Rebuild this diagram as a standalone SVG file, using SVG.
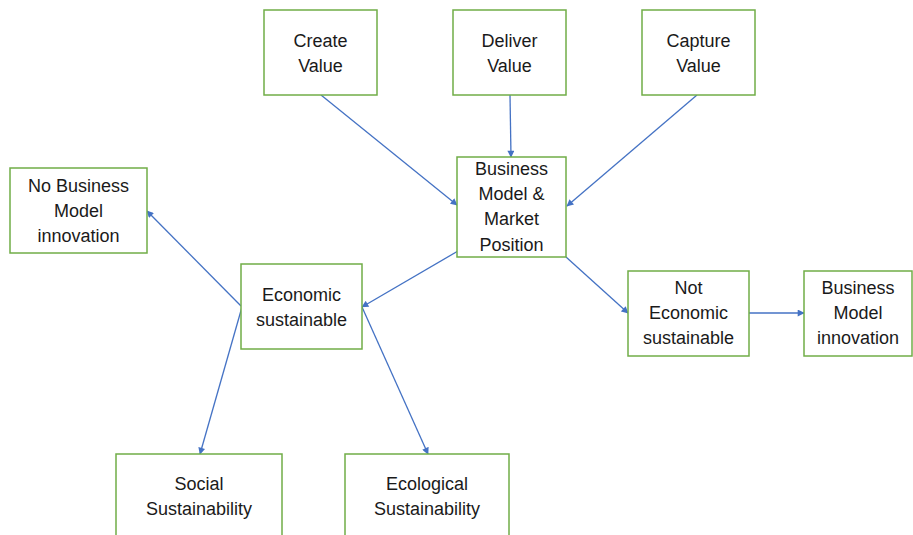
<svg xmlns="http://www.w3.org/2000/svg" width="913" height="535" viewBox="0 0 913 535">
  <style>
    .box { fill: #ffffff; stroke: #70AD47; stroke-width: 1.5; }
    .lbl { font-family: "Liberation Sans", Arial, sans-serif; font-size: 18px; fill: #1a1a1a; text-anchor: middle; }
    .edge { stroke: #4472C4; stroke-width: 1.3; fill: none; marker-end: url(#arrow); }
  </style>
  <defs>
    <marker id="arrow" viewBox="0 0 10 10" refX="9" refY="5" markerWidth="8" markerHeight="7" markerUnits="userSpaceOnUse" orient="auto">
      <path d="M0,0 L10,5 L0,10 z" fill="#4472C4"/>
    </marker>
  </defs>
  <rect width="913" height="535" fill="#ffffff"/>

  <g id="connectors">
    <line class="edge" x1="321" y1="95" x2="457" y2="205"/>
    <line class="edge" x1="510" y1="95" x2="511" y2="157"/>
    <line class="edge" x1="697" y1="95" x2="567" y2="206"/>
    <line class="edge" x1="458" y1="251" x2="362" y2="307"/>
    <line class="edge" x1="241" y1="306" x2="147" y2="211"/>
    <line class="edge" x1="242" y1="307" x2="200" y2="454"/>
    <line class="edge" x1="362" y1="307" x2="428" y2="454"/>
    <line class="edge" x1="566" y1="257" x2="628" y2="313"/>
    <line class="edge" x1="749" y1="313" x2="804" y2="313"/>
  </g>

  <g id="create-value">
    <rect class="box" x="264" y="10" width="113" height="85"/>
    <text class="lbl" x="320.5" y="47">Create</text>
    <text class="lbl" x="320.5" y="72">Value</text>
  </g>
  <g id="deliver-value">
    <rect class="box" x="453" y="10" width="113" height="85"/>
    <text class="lbl" x="509.5" y="47">Deliver</text>
    <text class="lbl" x="509.5" y="72">Value</text>
  </g>
  <g id="capture-value">
    <rect class="box" x="642" y="10" width="113" height="85"/>
    <text class="lbl" x="698.5" y="47">Capture</text>
    <text class="lbl" x="698.5" y="72">Value</text>
  </g>
  <g id="business-model-market-position">
    <rect class="box" x="457" y="157" width="109" height="100"/>
    <text class="lbl" x="511.5" y="175">Business</text>
    <text class="lbl" x="511.5" y="200">Model &amp;</text>
    <text class="lbl" x="511.5" y="225">Market</text>
    <text class="lbl" x="511.5" y="251">Position</text>
  </g>
  <g id="no-business-model-innovation">
    <rect class="box" x="10" y="168" width="137" height="85"/>
    <text class="lbl" x="78.5" y="192">No Business</text>
    <text class="lbl" x="78.5" y="217">Model</text>
    <text class="lbl" x="78.5" y="242">innovation</text>
  </g>
  <g id="economic-sustainable">
    <rect class="box" x="241" y="264" width="121" height="85"/>
    <text class="lbl" x="301.5" y="301">Economic</text>
    <text class="lbl" x="301.5" y="326">sustainable</text>
  </g>
  <g id="not-economic-sustainable">
    <rect class="box" x="628" y="271" width="121" height="85"/>
    <text class="lbl" x="688.5" y="294">Not</text>
    <text class="lbl" x="688.5" y="319">Economic</text>
    <text class="lbl" x="688.5" y="344">sustainable</text>
  </g>
  <g id="business-model-innovation">
    <rect class="box" x="804" y="271" width="108" height="85"/>
    <text class="lbl" x="858" y="294">Business</text>
    <text class="lbl" x="858" y="319">Model</text>
    <text class="lbl" x="858" y="344">innovation</text>
  </g>
  <g id="social-sustainability">
    <rect class="box" x="116" y="454" width="166" height="95"/>
    <text class="lbl" x="199" y="490">Social</text>
    <text class="lbl" x="199" y="515">Sustainability</text>
  </g>
  <g id="ecological-sustainability">
    <rect class="box" x="345" y="454" width="164" height="95"/>
    <text class="lbl" x="427" y="490">Ecological</text>
    <text class="lbl" x="427" y="515">Sustainability</text>
  </g>
</svg>
